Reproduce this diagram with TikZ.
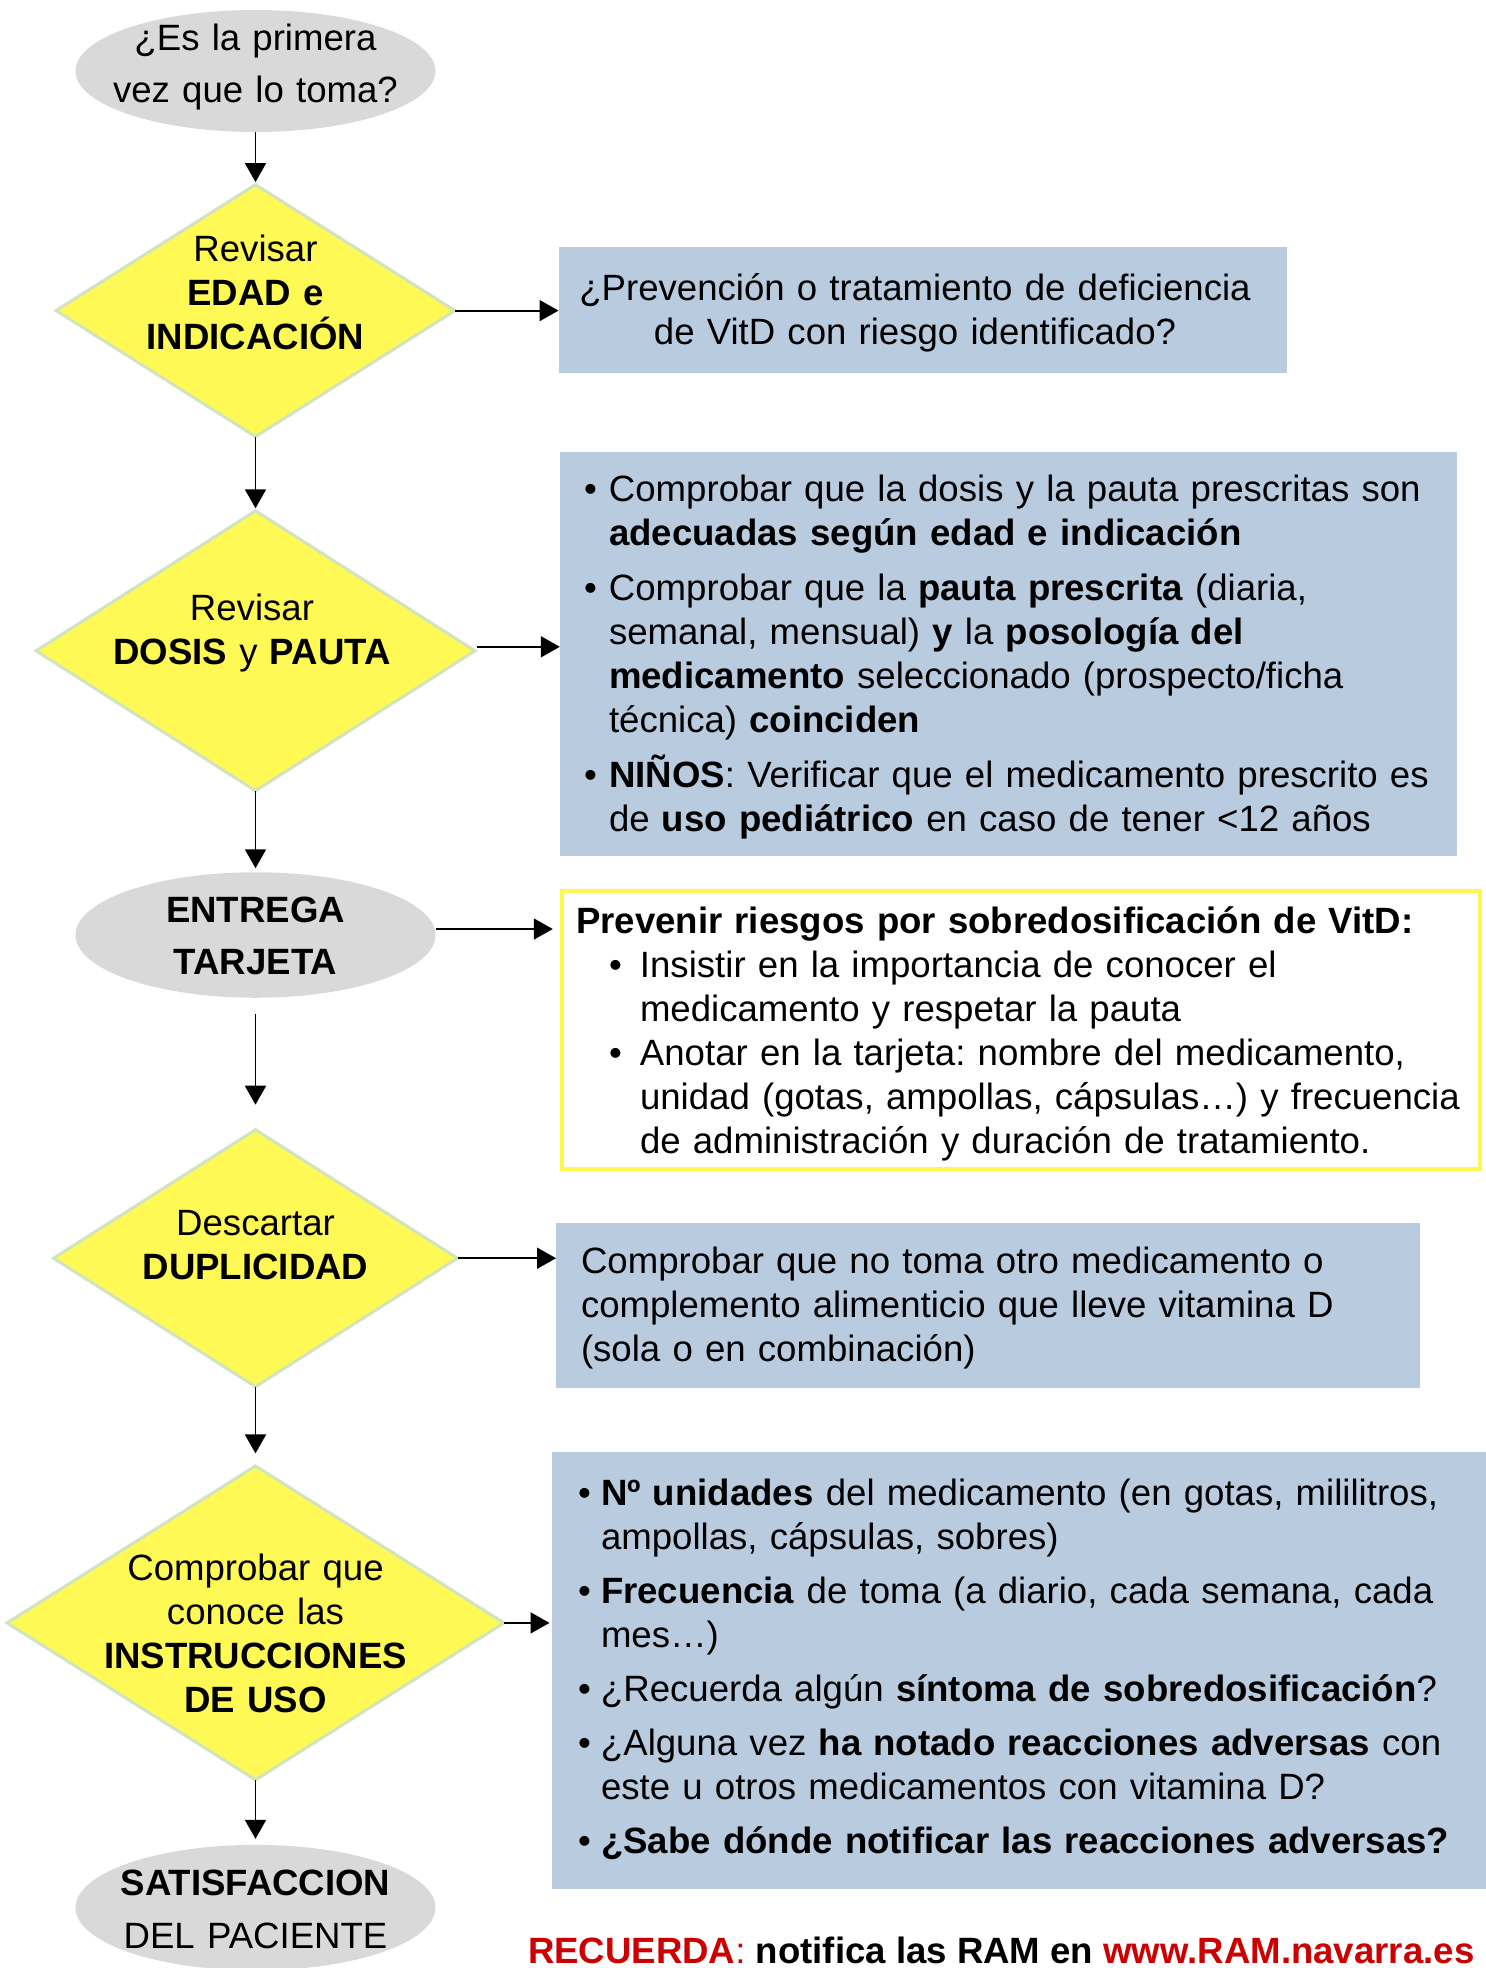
\documentclass[tikz,border=0pt]{standalone}
\usepackage{fontspec}
\setmainfont{Liberation Sans}
\usetikzlibrary{shapes.geometric,arrows.meta,calc}
\definecolor{ellgrey}{HTML}{D9D9D9}
\definecolor{dfill}{HTML}{FFF955}
\definecolor{dborder}{HTML}{D2E3C0}
\definecolor{boxblue}{HTML}{B9CBDF}
\definecolor{yborder}{HTML}{FFF64F}
\definecolor{ramred}{HTML}{CC0000}
\frenchspacing
\newcommand\bul[2]{\hangindent=#1\hangafter=1\noindent\makebox[#1][l]{\textbullet}#2\par}
\begin{document}
\begin{tikzpicture}[x=1pt,y=-1pt,
  greyell/.style={ellipse, fill=ellgrey, inner sep=0, outer sep=0, minimum width=360pt},
  dia/.style={diamond, fill=dfill, draw=dborder, line width=3pt, inner sep=0, outer sep=0},
  bbox/.style={rectangle, fill=boxblue, inner sep=0, outer sep=0},
  ybox/.style={rectangle, draw=yborder, fill=white, line width=4pt, inner sep=0, outer sep=0},
  txt/.style={inner sep=0, outer sep=0, font=\fontsize{36.6}{44}\selectfont\frenchspacing},
  ctxt/.style={txt, text width=440pt, align=center, anchor=base},
  ltxt/.style={txt, text width=920pt, align=left, anchor=base west},
  arr/.style={line width=1.8pt, -{Triangle[length=19pt,width=21pt]}},
]
\clip (0,0) rectangle (1486,1968);
\fill[white] (0,0) rectangle (1486,1968);

% first ellipse
\node[greyell, minimum height=122pt] (e1) at (255.5,71) {};
\node[ctxt, font=\fontsize{36.6}{51.5}\selectfont] (e1t) at (255.5,50.9) {¿Es la primera\\vez que lo toma?};

% diamond 1
\node[dia, minimum width=399pt, minimum height=252pt] (d1) at (255.5,310.6) {};
\node[ctxt] (d1t) at (255.5,261.8) {Revisar\\\textbf{EDAD e}\\\textbf{INDICACIÓN}};

\node[bbox, minimum width=728pt, minimum height=125.5pt] (b1) at (922.5,310) {};
\node[ctxt, text width=720pt] (b1t) at (915,300.7) {¿Prevención o tratamiento de deficiencia\\de VitD con riesgo identificado?};

% diamond 2
\node[dia, minimum width=439pt, minimum height=280pt] (d2) at (255.5,650.8) {};
\node[ctxt] (d2t) at (252,620.7) {Revisar\\\textbf{DOSIS} y \textbf{PAUTA}};

\node[bbox, minimum width=897.4pt, minimum height=404.2pt] (b2) at (1008.5,653.9) {};
\node[ltxt] (b2t) at (584,501.5) {\bul{25pt}{Comprobar que la dosis y la pauta prescritas son\newline\textbf{adecuadas según edad e indicación}}\vspace{11pt}\bul{25pt}{Comprobar que la \textbf{pauta prescrita} (diaria,\newline semanal, mensual) \textbf{y} la \textbf{posología del}\newline\textbf{medicamento} seleccionado (prospecto/ficha\newline técnica) \textbf{coinciden}}\vspace{11pt}\bul{25pt}{\textbf{NIÑOS}: Verificar que el medicamento prescrito es\newline de \textbf{uso pediátrico} en caso de tener <12 años}};

% ellipse 2
\node[greyell, minimum height=125.5pt] (e2) at (255.5,935) {};
\node[ctxt, font=\fontsize{36.6}{52.7}\selectfont] (e2t) at (255.5,922) {\textbf{ENTREGA}\\\textbf{TARJETA}};

\node[ybox, minimum width=918.5pt, minimum height=278.4pt] (yb) at (1021,1029.8) {};
\node[ltxt] (ybt) at (576,933.3) {\textbf{Prevenir riesgos por sobredosificación de VitD:}\par\leftskip=33pt
\bul{31pt}{Insistir en la importancia de conocer el\newline medicamento y respetar la pauta}\bul{31pt}{Anotar en la tarjeta: nombre del medicamento,\newline unidad (gotas, ampollas, cápsulas…) y frecuencia\newline de administración y duración de tratamiento.}};

% diamond 3
\node[dia, minimum width=404pt, minimum height=257pt] (d3) at (255.5,1258.2) {};
\node[ctxt] (d3t) at (255.5,1235.7) {Descartar\\\textbf{DUPLICIDAD}};

\node[bbox, minimum width=863.5pt, minimum height=165.6pt] (b4) at (987.8,1305.3) {};
\node[ltxt] (b4t) at (581,1273.4) {Comprobar que no toma otro medicamento o\\complemento alimenticio que lleve vitamina D\\(sola o en combinación)};

% diamond 4
\node[dia, minimum width=497pt, minimum height=314pt] (d4) at (255.5,1622.9) {};
\node[ctxt] (d4t) at (255.5,1580.9) {Comprobar que\\conoce las\\\textbf{INSTRUCCIONES}\\\textbf{DE USO}};

\node[bbox, minimum width=948pt, minimum height=437pt] (b5) at (1026,1670.5) {};
\node[ltxt] (b5t) at (578,1505.6) {\bul{23pt}{\textbf{Nº unidades} del medicamento (en gotas, mililitros,\newline ampollas, cápsulas, sobres)}\vspace{10pt}\bul{23pt}{\textbf{Frecuencia} de toma (a diario, cada semana, cada\newline mes…)}\vspace{10pt}\bul{23pt}{¿Recuerda algún \textbf{síntoma de sobredosificación}?}\vspace{10pt}\bul{23pt}{¿Alguna vez \textbf{ha notado reacciones adversas} con\newline este u otros medicamentos con vitamina D?}\vspace{10pt}\bul{23pt}{\textbf{¿Sabe dónde notificar las reacciones adversas?}}};

% ellipse 3
\node[greyell, minimum height=125.5pt] (e3) at (255.5,1907.6) {};
\node[ctxt, font=\fontsize{36.6}{52.8}\selectfont] (e3t) at (255.5,1895.9) {\textbf{SATISFACCION}\\DEL PACIENTE};

% bottom note
\node[txt, anchor=base west] (rec) at (528,1963) {\textcolor{ramred}{\textbf{RECUERDA}:} \textbf{notifica las RAM en} \textcolor{ramred}{\textbf{www.RAM.navarra.es}}};

% connectors
\draw[arr, shorten >=2.5pt] (e1.south) -- (d1.north);
\draw[arr] (d1.east) -- (b1.west |- d1.east);
\draw[arr, shorten >=2.5pt] (d1.south) -- (d2.north);
\draw[arr] ($(d2.east)+(2,-4)$) -- ($(b2.west |- d2.east)+(0,-4)$);
\draw[arr, shorten >=4pt] (d2.south) -- (e2.north);
\draw[arr] ($(e2.east)+(0,-6)$) -- ($(yb.west |- e2.east)+(-9,-6)$);
\draw[arr, shorten <=16pt, shorten >=25pt] (e2.south) -- (d3.north);
\draw[arr] (d3.east) -- (b4.west |- d3.east);
\draw[arr, shorten >=12.5pt] (d3.south) -- (d4.north);
\draw[arr, shorten >=2.5pt] (d4.east) -- (b5.west |- d4.east);
\draw[arr, shorten >=6pt] (d4.south) -- (e3.north);
\end{tikzpicture}
\end{document}
